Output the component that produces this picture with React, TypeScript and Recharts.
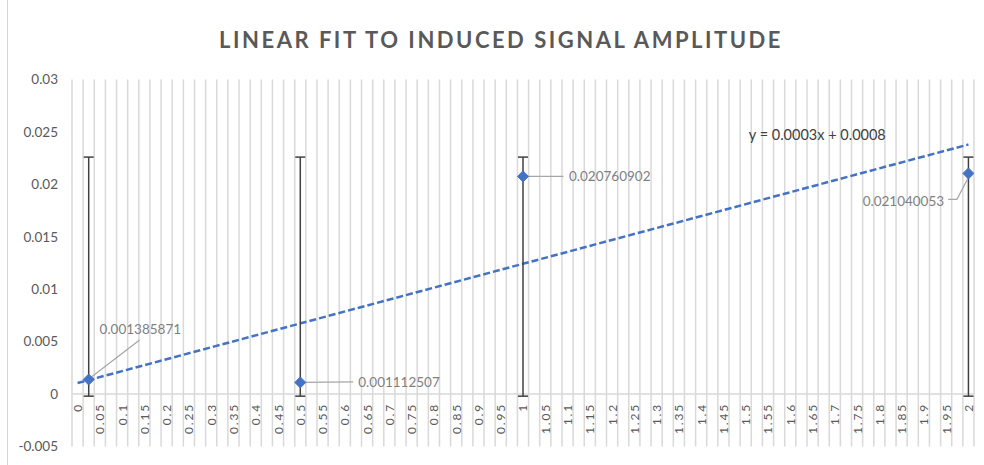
import React from 'react';
import { ComposedChart, XAxis, YAxis, CartesianGrid, Scatter, Line, ErrorBar, ReferenceLine } from 'recharts';

// ---- data ----
const titleText = 'LINEAR FIT TO INDUCED SIGNAL AMPLITUDE';
const xTickLabels = [
  '0', '0.05', '0.1', '0.15', '0.2', '0.25', '0.3', '0.35', '0.4', '0.45', '0.5',
  '0.55', '0.6', '0.65', '0.7', '0.75', '0.8', '0.85', '0.9', '0.95', '1',
  '1.05', '1.1', '1.15', '1.2', '1.25', '1.3', '1.35', '1.4', '1.45', '1.5',
  '1.55', '1.6', '1.65', '1.7', '1.75', '1.8', '1.85', '1.9', '1.95', '2',
];
const slotHalfWidth = 0.0125; // categories are spaced every 0.025
const pointX = [0.025, 0.5, 1, 2];
const pointY = [0.001385871, 0.001112507, 0.020760902, 0.021040053];
const errLow = [-0.0002, -0.0002, -0.0002, -0.0002];
const errHigh = [0.0226, 0.0226, 0.0226, 0.0226];
const trendX = [0, 2];
const trendY = [0.00105, 0.0238];
const yTicks = [-0.005, 0, 0.005, 0.01, 0.015, 0.02, 0.025, 0.03];
const equationText = 'y = 0.0003x + 0.0008';
const equationAt = { x: 1.507, y: 0.0248 };

// ---- tables for the library ----
const xDomain: [number, number] = [Number(xTickLabels[0]) - slotHalfWidth, Number(xTickLabels[xTickLabels.length - 1]) + slotHalfWidth];
const gridBoundaries: number[] = [];
xTickLabels.forEach((l) => {
  gridBoundaries.push(Number(l) - slotHalfWidth, Number(l) + slotHalfWidth);
});
const pointData = pointX.map((x, i) => ({ x, y: pointY[i], err: [pointY[i] - errLow[i], errHigh[i] - pointY[i]] }));
const trendData = trendX.map((x, i) => ({ x, y: trendY[i] }));
const tickData = xTickLabels.map((l) => ({ x: Number(l), y: 0, label: l }));
const equationData = [{ x: equationAt.x, y: equationAt.y, label: equationText }];

// ---- styles ----
const FONT = 'Lato, "Open Sans", sans-serif';
const labelLayout = [
  { tx: 10.9, ty: -51, anchor: 'start', leader: [[2, -2], [50.9, -39.5]] },
  { tx: 58, ty: 0, anchor: 'start', leader: [[3, 0], [53, -0.5]] },
  { tx: 46, ty: 0, anchor: 'start', leader: [[3, 0], [40.5, 0]] },
  { tx: -24.3, ty: 28, anchor: 'end', leader: [[1, 2], [-11.5, 25.8], [-20.3, 25.8]] },
];

const PointShape = (p: any) => {
  const { cx, cy, payload } = p;
  if (cx == null || cy == null) return null;
  const i = pointX.indexOf(payload?.x);
  const L = labelLayout[i] || labelLayout[0];
  const pts = L.leader.map(([dx, dy]) => `${cx + dx},${cy + dy}`).join(' ');
  const s = 5.5;
  return (
    <g>
      <polyline points={pts} fill="none" stroke="#a6a6a6" strokeWidth={1.25} />
      <path d={`M${cx},${cy - s}L${cx + s},${cy}L${cx},${cy + s}L${cx - s},${cy}Z`} fill="#4472C4" stroke="#4472C4" strokeWidth={1} />
      <text x={cx + L.tx} y={cy + L.ty} textAnchor={L.anchor as any} dominantBaseline="central" fontFamily={FONT} fontSize={13.5} fill="#7f7f7f">
        {String(payload?.y)}
      </text>
    </g>
  );
};

const TickShape = (p: any) => {
  const { cx, cy, payload } = p;
  if (cx == null || cy == null) return null;
  const ay = cy + 9;
  return (
    <text x={cx} y={ay} transform={`rotate(-90 ${cx} ${ay})`} textAnchor="end" dominantBaseline="central" fontFamily={FONT} fontSize={12} letterSpacing={1.8} fill="#595959">
      {payload?.label}
    </text>
  );
};

const EquationShape = (p: any) => {
  const { cx, cy, payload } = p;
  if (cx == null || cy == null) return null;
  return (
    <text x={cx} y={cy} textAnchor="start" dominantBaseline="central" fontFamily={FONT} fontSize={14.5} fill="#404040">
      {payload?.label}
    </text>
  );
};

const verticalGen = (props: any) => {
  const xAxis = props?.xAxis;
  const scale = xAxis?.scale;
  if (typeof scale === 'function') return gridBoundaries.map((b) => scale(b));
  const off = props?.offset || { left: 72, width: 902 };
  return gridBoundaries.map((b) => off.left + ((b - xDomain[0]) / (xDomain[1] - xDomain[0])) * off.width);
};

export default function App() {
  return (
    <div style={{ position: 'absolute', left: 0, top: 0, width: 984, height: 465, background: '#ffffff', overflow: 'hidden' }}>
      <div style={{ position: 'absolute', left: 7, top: 0, width: 1, height: 465, background: '#c8d6ea' }} />
      <div
        style={{
          position: 'absolute', left: 9, top: 25, width: 984, textAlign: 'center',
          fontFamily: FONT, fontWeight: 700, fontSize: 22, letterSpacing: 2.5, color: '#595959', lineHeight: '30px',
        }}
      >
        {titleText}
      </div>
      <ComposedChart width={984} height={465} margin={{ top: 79.5, right: 10, bottom: 18.5, left: 12 }}>
        <CartesianGrid horizontal={false} vertical stroke="#d9d9d9" strokeWidth={1.5} verticalCoordinatesGenerator={verticalGen} />
        <XAxis type="number" dataKey="x" domain={xDomain} allowDataOverflow hide />
        <YAxis
          type="number"
          domain={[yTicks[0], yTicks[yTicks.length - 1]]}
          ticks={yTicks}
          allowDataOverflow
          width={60}
          axisLine={false}
          tickLine={false}
          tickSize={0}
          tickMargin={14}
          tick={{ fontFamily: FONT, fontSize: 13.5, fill: '#595959' }}
        />
        <ReferenceLine y={0} stroke="#d9d9d9" strokeWidth={1.5} />
        <Scatter data={tickData} dataKey="y" shape={TickShape} isAnimationActive={false} />
        <Line data={trendData} dataKey="y" stroke="#4472C4" strokeWidth={2.5} strokeDasharray="7 3" dot={false} activeDot={false} isAnimationActive={false} />
        <Scatter data={pointData} dataKey="y" shape={PointShape} isAnimationActive={false}>
          <ErrorBar dataKey="err" direction="y" width={5} stroke="#404040" strokeWidth={1.5} />
        </Scatter>
        <Scatter data={equationData} dataKey="y" shape={EquationShape} isAnimationActive={false} />
      </ComposedChart>
    </div>
  );
}
